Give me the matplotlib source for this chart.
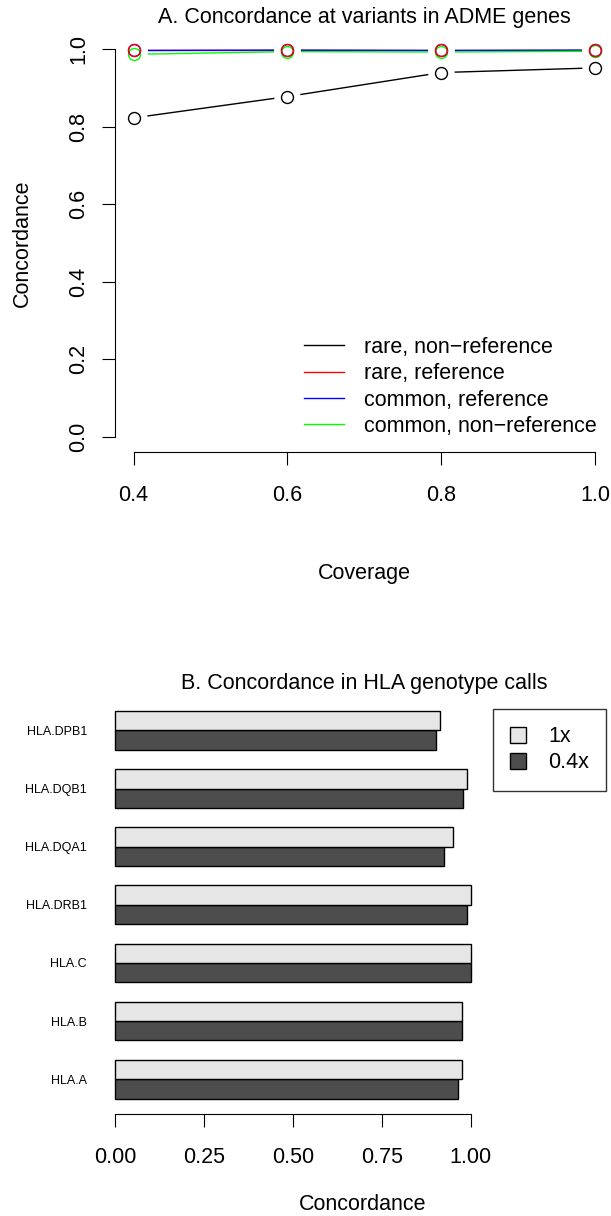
import matplotlib
matplotlib.use("Agg")
import matplotlib.pyplot as plt
from matplotlib.lines import Line2D
from matplotlib.patches import Patch

plt.rcParams['font.family'] = ['Liberation Sans', 'DejaVu Sans']

# ---------------- data ----------------
coverage = [0.4, 0.6, 0.8, 1.0]
rare_nonref = [0.823, 0.878, 0.940, 0.952]
rare_ref = [0.999, 0.999, 0.999, 0.999]
common_ref = [0.997, 0.998, 0.997, 0.998]
common_nonref = [0.987, 0.994, 0.993, 0.995]

series_names = ["rare, non\u2212reference", "rare, reference",
                "common, reference", "common, non\u2212reference"]
series_colors = ["black", "#FF0000", "#0000FF", "#00FF00"]

yticks_a = [0.0, 0.2, 0.4, 0.6, 0.8, 1.0]
xticks_a = [0.4, 0.6, 0.8, 1.0]

hla_genes = ["HLA.A", "HLA.B", "HLA.C", "HLA.DRB1", "HLA.DQA1", "HLA.DQB1", "HLA.DPB1"]
conc_1x = [0.976, 0.976, 1.000, 1.000, 0.951, 0.989, 0.914]
conc_04x = [0.963, 0.976, 1.000, 0.989, 0.926, 0.977, 0.901]
xticks_b = [0.0, 0.25, 0.5, 0.75, 1.0]
xticklabels_b = ["0.00", "0.25", "0.50", "0.75", "1.00"]

# ---------------- figure ----------------
W, H = 611, 1216
fig = plt.figure(figsize=(W / 100, H / 100), dpi=100)
FS = 15.5

def px_axes(left, right, top, bottom):
    return fig.add_axes([left / W, 1 - bottom / H, (right - left) / W, (bottom - top) / H])

# ---------------- Panel A ----------------
axA = px_axes(115.2, 613.5, 33.8, 452.2)
axA.set_xlim(0.376, 1.024)
axA.set_ylim(-0.04, 1.04)
all_series = [rare_nonref, rare_ref, common_ref, common_nonref]
# lines
for vals, col in zip(all_series, series_colors):
    axA.plot(coverage, vals, color=col, lw=1.0, zorder=1, clip_on=False)
# gaps around points (type = "b")
for vals in all_series:
    axA.plot(coverage, vals, ls='none', marker='o', ms=19, mfc='white', mec='none', zorder=2, clip_on=False)
# points (draw so that red ends on top)
for idx in [0, 3, 2, 1]:
    axA.plot(coverage, all_series[idx], ls='none', marker='o', ms=8.6, mfc='none',
             mec=series_colors[idx], mew=1.0, zorder=3, clip_on=False)

for s in ['top', 'right']:
    axA.spines[s].set_visible(False)
axA.spines['left'].set_bounds(0, 1)
axA.spines['bottom'].set_bounds(0.4, 1.0)
for s in ['left', 'bottom']:
    axA.spines[s].set_linewidth(0.8)
axA.set_yticks(yticks_a)
axA.set_yticklabels(["%.1f" % v for v in yticks_a], rotation=90, va='center')
axA.set_xticks(xticks_a)
axA.set_xticklabels(["%.1f" % v for v in xticks_a])
axA.tick_params(axis='both', direction='out', length=9.7, width=0.8, labelsize=FS)
axA.tick_params(axis='y', pad=9)
axA.tick_params(axis='x', pad=14)

handlesA = [Line2D([], [], color=c, lw=1.0) for c in series_colors]
fig.legend(handlesA, series_names, loc='upper left', bbox_to_anchor=(304 / W, 1 - 337 / H),
           frameon=False, fontsize=FS, borderpad=0, borderaxespad=0, handlelength=1.86,
           handletextpad=0.93, labelspacing=0.245)

fig.text(364 / W, 1 - 18 / H, "A. Concordance at variants in ADME genes", ha='center', va='center', fontsize=FS)
fig.text(364 / W, 1 - 573 / H, "Coverage", ha='center', va='center', fontsize=FS)
fig.text(22 / W, 1 - 243 / H, "Concordance", ha='center', va='center', rotation=90, fontsize=FS)

# ---------------- Panel B ----------------
axB = px_axes(95.4, 632.8, 695.5, 1114.0)
axB.set_xlim(-0.056, 1.456)
axB.set_ylim(0.2, 21.8)
pos_dark = [1.5 + 3 * i for i in range(len(hla_genes))]
pos_light = [2.5 + 3 * i for i in range(len(hla_genes))]
axB.barh(pos_dark, conc_04x, height=1.0, color="#4D4D4D", edgecolor='black', lw=1.0, zorder=2)
axB.barh(pos_light, conc_1x, height=1.0, color="#E6E6E6", edgecolor='black', lw=1.0, zorder=2)
axB.set_yticks([2.0 + 3 * i for i in range(len(hla_genes))])
axB.set_yticklabels(hla_genes, fontsize=9)
axB.tick_params(axis='y', length=0, pad=6)
for s in ['top', 'right', 'left']:
    axB.spines[s].set_visible(False)
axB.spines['bottom'].set_bounds(0, 1)
axB.spines['bottom'].set_linewidth(0.8)
axB.set_xticks(xticks_b)
axB.set_xticklabels(xticklabels_b)
axB.tick_params(axis='x', direction='out', length=9.7, width=0.8, labelsize=FS, pad=14)

handlesB = [Patch(facecolor="#E6E6E6", edgecolor='black', lw=1.0),
            Patch(facecolor="#4D4D4D", edgecolor='black', lw=1.0)]
legB = fig.legend(handlesB, ["1x", "0.4x"], loc='upper left', bbox_to_anchor=(493 / W, 1 - 709 / H),
                  frameon=True, fancybox=False, fontsize=FS, borderpad=0.8, borderaxespad=0,
                  handlelength=0.75, handleheight=0.75, handletextpad=1.0, labelspacing=0.245)
legB.get_frame().set_edgecolor('black')
legB.get_frame().set_linewidth(1.0)

fig.text(364 / W, 1 - 683 / H, "B. Concordance in HLA genotype calls", ha='center', va='center', fontsize=FS)
fig.text(363 / W, 1 - 1204 / H, "Concordance", ha='center', va='center', fontsize=FS)

fig.savefig("out.png", dpi=100)
